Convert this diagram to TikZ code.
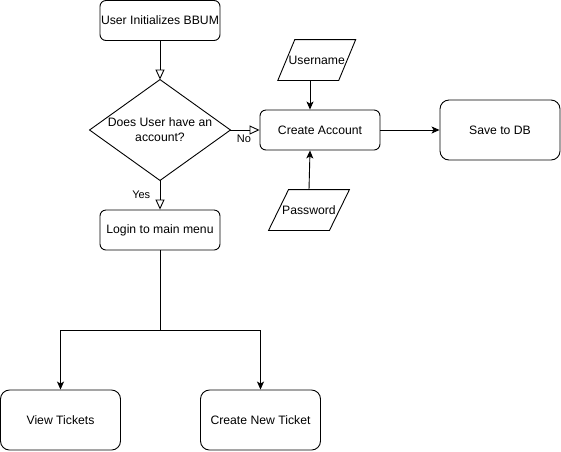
\documentclass[tikz,border=0pt]{standalone}
\usepackage{fontspec}
\setmainfont{Liberation Sans}
\usetikzlibrary{arrows.meta}

\begin{document}
\begin{tikzpicture}[x=1pt, y=-1pt, line width=0.9pt,
    every node/.style={font=\fontsize{12.2}{15}\selectfont},
    box/.style={draw, rounded corners=6pt, minimum width=120pt, minimum height=40pt, inner sep=0pt},
    bigbox/.style={box, minimum height=60pt, rounded corners=9pt},
    inbox/.style={minimum width=60pt, minimum height=40pt, inner sep=0pt},
    lbl/.style={font=\fontsize{11}{13}\selectfont},
    openarrow/.style={-{Triangle[open, length=10pt, width=9pt]}},
    fillarrow/.style={-{Stealth[length=8pt, width=7pt, inset=2pt]}}]
      \useasboundingbox (0,0) rectangle (561,451);
      \node[box] (init) at (160,20.5) {User Initializes BBUM};
      \node[minimum width=140pt, minimum height=100pt, inner sep=0pt, align=center] (q) at (160,130) {Does User have an\\account?};
      \draw (q.north) -- (q.east) -- (q.south) -- (q.west) -- cycle;
      \node[box] (login) at (160,230) {Login to main menu};
      \node[box] (ca) at (320,130) {Create Account};
      \node[bigbox] (db) at (500,130) {Save to DB};
      \node[inbox] (un) at (316.75,60) {Username};
      \draw ([xshift=-8.5pt]un.south west) -- ([xshift=8.5pt]un.north west) -- ([xshift=8.5pt]un.north east) -- ([xshift=-8.5pt]un.south east) -- cycle;
      \node[inbox] (pw) at (309,210) {Password};
      \draw ([xshift=-10pt]pw.south west) -- ([xshift=10pt]pw.north west) -- ([xshift=10pt]pw.north east) -- ([xshift=-10pt]pw.south east) -- cycle;
      \node[bigbox] (view) at (60.5,420) {View Tickets};
      \node[bigbox] (cnt) at (260.5,420) {Create New Ticket};
      \coordinate (split) at (160,330);
      % decision flow
      \draw[openarrow] (init) -- (q);
      \draw[openarrow] (q) -- node[lbl, below, inner sep=4pt, xshift=-1pt] {No} (ca);
      \draw[openarrow] (q) -- node[lbl, left=6pt] {Yes} (login);
      % account inputs
      \draw[fillarrow] ([xshift=-6.75pt]un.south) -- ([xshift=-10pt]ca.north);
      \draw[fillarrow] (pw.north) -- ([xshift=-10pt]ca.south);
      \draw[fillarrow] (ca) -- (db);
      % menu branches
      \draw (login) -- (split);
      \draw[fillarrow] (split) -| (view);
      \draw[fillarrow] (split) -| (cnt);
\end{tikzpicture}
\end{document}
